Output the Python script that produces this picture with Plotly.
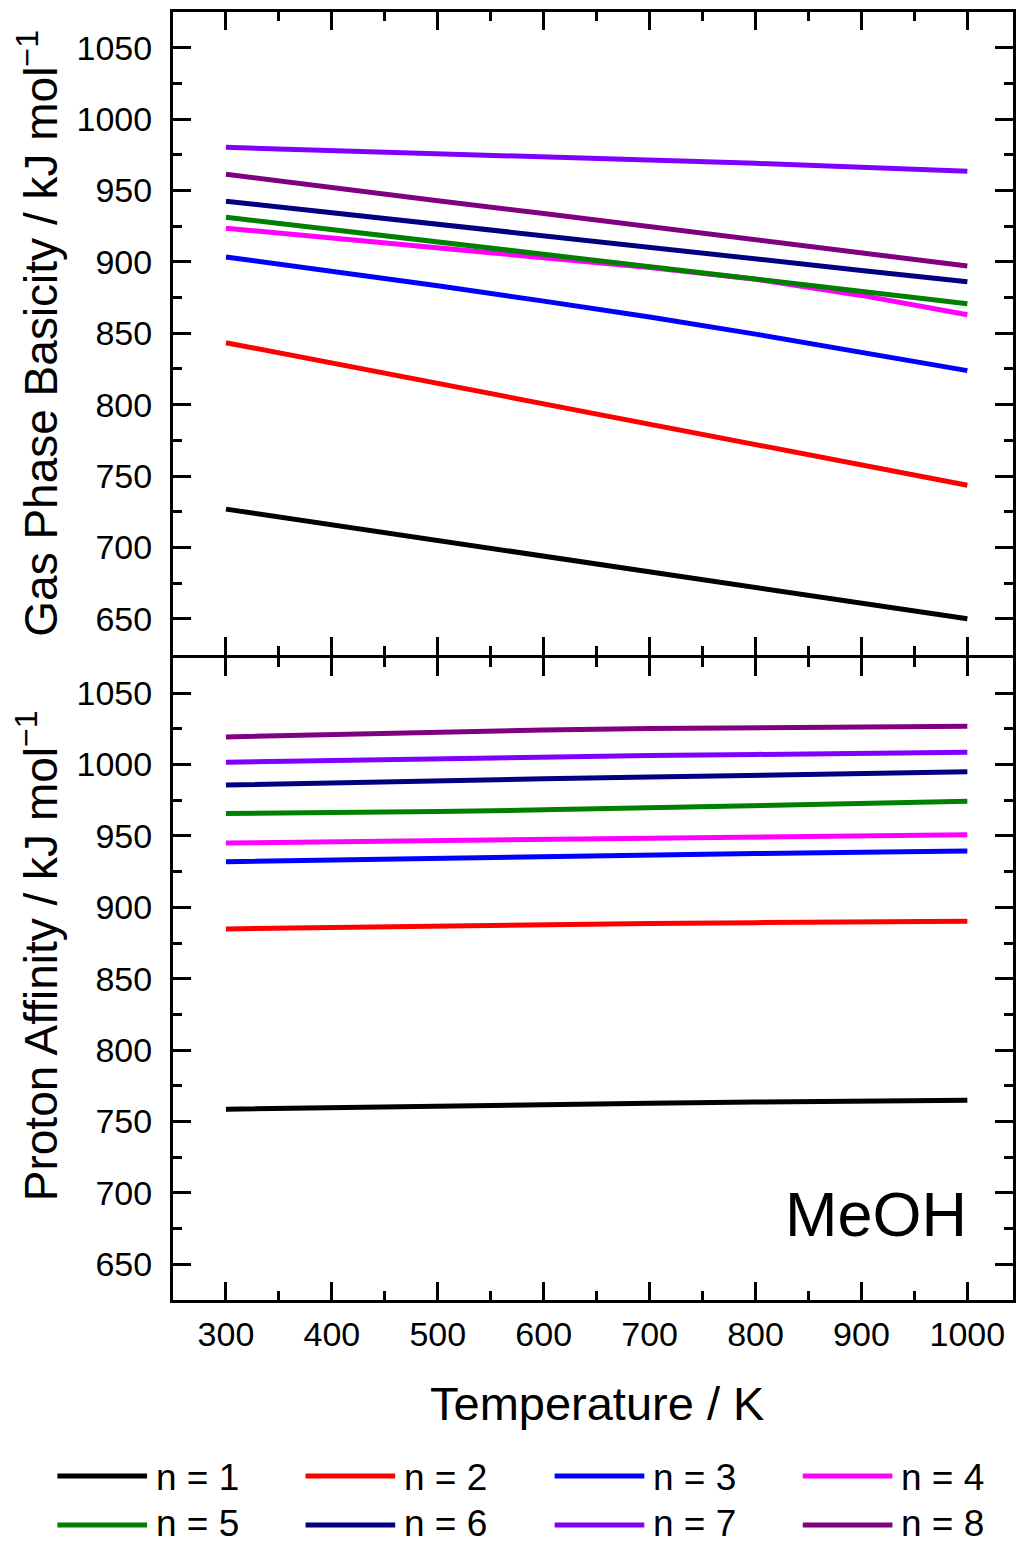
import plotly.graph_objects as go
from plotly.subplots import make_subplots

# Temperatures (K) at which gas phase basicity / proton affinity were evaluated
temperature = [300, 400, 500, 600, 700, 800, 900, 1000]

series_names = ["n = 1", "n = 2", "n = 3", "n = 4", "n = 5", "n = 6", "n = 7", "n = 8"]
series_colors = ["#000000", "#FF0000", "#0000FF", "#FF00FF",
                 "#008000", "#000080", "#8000FF", "#800080"]

# Gas phase basicity, kJ/mol
gb_n1 = [726.8, 715.9, 704.9, 693.8, 682.9, 671.9, 660.9, 650.0]
gb_n2 = [843.4, 829.1, 814.9, 800.6, 786.3, 772.1, 757.8, 743.5]
gb_n3 = [903.4, 893.6, 883.2, 872.5, 861.4, 849.4, 837.0, 823.8]
gb_n4 = [923.6, 916.8, 910.0, 903.2, 896.0, 887.8, 876.5, 863.0]
gb_n5 = [931.3, 922.6, 914.0, 905.3, 896.6, 888.0, 879.3, 870.6]
gb_n6 = [942.5, 934.3, 926.2, 918.2, 910.1, 902.0, 894.0, 886.0]
gb_n7 = [980.2, 978.0, 976.0, 973.8, 971.5, 969.0, 966.3, 963.4]
gb_n8 = [961.3, 951.8, 942.8, 933.8, 924.8, 915.8, 906.6, 897.1]

# Proton affinity, kJ/mol
pa_n1 = [758.6, 759.8, 760.9, 761.9, 762.8, 763.6, 764.3, 764.9]
pa_n2 = [884.9, 886.0, 887.1, 888.0, 888.7, 889.3, 889.8, 890.3]
pa_n3 = [932.0, 933.3, 934.5, 935.7, 936.8, 937.7, 938.6, 939.4]
pa_n4 = [945.1, 945.9, 946.9, 947.8, 948.7, 949.5, 950.2, 950.9]
pa_n5 = [965.7, 966.2, 967.1, 968.3, 969.6, 971.1, 972.7, 974.3]
pa_n6 = [985.7, 987.4, 988.8, 990.0, 991.3, 992.5, 993.7, 994.9]
pa_n7 = [1001.7, 1003.0, 1004.3, 1005.4, 1006.3, 1007.1, 1007.9, 1008.6]
pa_n8 = [1019.4, 1021.3, 1023.0, 1024.3, 1025.2, 1026.0, 1026.5, 1026.9]

gb_series = [gb_n1, gb_n2, gb_n3, gb_n4, gb_n5, gb_n6, gb_n7, gb_n8]
pa_series = [pa_n1, pa_n2, pa_n3, pa_n4, pa_n5, pa_n6, pa_n7, pa_n8]

y_tick_values = [650, 700, 750, 800, 850, 900, 950, 1000, 1050]
x_tick_values = [300, 400, 500, 600, 700, 800, 900, 1000]

FONT = "Liberation Sans, Arial, sans-serif"

fig = make_subplots(rows=2, cols=1, shared_xaxes=True, vertical_spacing=0)

for name, color, gb, pa in zip(series_names, series_colors, gb_series, pa_series):
    fig.add_trace(go.Scatter(x=temperature, y=gb, mode="lines", name=name,
                             line=dict(color=color, width=5), showlegend=False),
                  row=1, col=1)
    fig.add_trace(go.Scatter(x=temperature, y=pa, mode="lines", name=name,
                             line=dict(color=color, width=5), showlegend=False),
                  row=2, col=1)

axis_common = dict(
    showline=True, linecolor="black", linewidth=3, mirror="ticks",
    ticks="inside", ticklen=18, tickwidth=3, tickcolor="black",
    showgrid=False, zeroline=False,
    tickfont=dict(family=FONT, size=34, color="black"),
)

fig.update_xaxes(range=[250, 1043.1], tickvals=x_tick_values,
                 minor=dict(ticks="inside", ticklen=9, tickwidth=3,
                            tickcolor="black", dtick=50, tick0=250),
                 **axis_common)
fig.update_xaxes(showticklabels=False, row=1, col=1)
fig.update_xaxes(ticklabelstandoff=2, row=2, col=1)

fig.update_yaxes(range=[625, 1075], tickvals=y_tick_values,
                 minor=dict(ticks="inside", ticklen=9, tickwidth=3,
                            tickcolor="black", dtick=25, tick0=625),
                 ticklabelstandoff=11,
                 **axis_common)

# small gap between panels so both frame lines fall on the same pixel row
half_line = 1.5 / 1288.0
fig.update_layout(yaxis=dict(domain=[0.5 + half_line, 1.0]),
                  yaxis2=dict(domain=[0.0, 0.5 - half_line]))

annotations = []

# axis titles
title_font = dict(family=FONT, size=46, color="black")
annotations.append(dict(text="Gas Phase Basicity / kJ mol<sup>−1</sup>",
                        xref="paper", yref="paper", x=-0.161, y=0.7508,
                        xanchor="center", yanchor="middle", textangle=-90,
                        showarrow=False, font=title_font))
annotations.append(dict(text="Proton Affinity / kJ mol<sup>−1</sup>",
                        xref="paper", yref="paper", x=-0.161, y=0.2675,
                        xanchor="center", yanchor="middle", textangle=-90,
                        showarrow=False, font=title_font))
annotations.append(dict(text="Temperature / K",
                        xref="paper", yref="paper", x=0.505, y=-0.080,
                        xanchor="center", yanchor="middle",
                        showarrow=False, font=dict(family=FONT, size=47, color="black")))

# panel label
annotations.append(dict(text="MeOH", xref="paper", yref="paper",
                        x=(972 - 173) / 843.0, y=0.0668, xanchor="right", yanchor="middle",
                        showarrow=False,
                        font=dict(family=FONT, size=63, color="black")))

# legend, two rows of four entries
shapes = []
plot_left, plot_width = 173.0, 843.0
plot_bottom, plot_height = 1300.0, 1288.0
col_x = [57, 306, 556, 805]
row_y = [1477, 1523]
for i, (name, color) in enumerate(zip(series_names, series_colors)):
    cx = col_x[i % 4]
    ry = row_y[i // 4]
    x0 = (cx - plot_left) / plot_width
    x1 = (cx + 90 - plot_left) / plot_width
    yp = (plot_bottom - ry) / plot_height
    line_y = (plot_bottom - (ry - 1 + 3 * (i // 4))) / plot_height
    shapes.append(dict(type="line", xref="paper", yref="paper",
                       x0=x0, x1=x1, y0=line_y, y1=line_y,
                       line=dict(color=color, width=5)))
    annotations.append(dict(text=name, xref="paper", yref="paper",
                            x=(cx + 97 - plot_left) / plot_width, y=yp,
                            xanchor="left", yanchor="middle", showarrow=False,
                            font=dict(family=FONT, size=37, color="black")))

fig.update_layout(
    width=1016, height=1544,
    margin=dict(l=173, r=0, t=12, b=244),
    paper_bgcolor="white", plot_bgcolor="white",
    showlegend=False,
    annotations=annotations, shapes=shapes,
)

fig.write_html("out.html")
